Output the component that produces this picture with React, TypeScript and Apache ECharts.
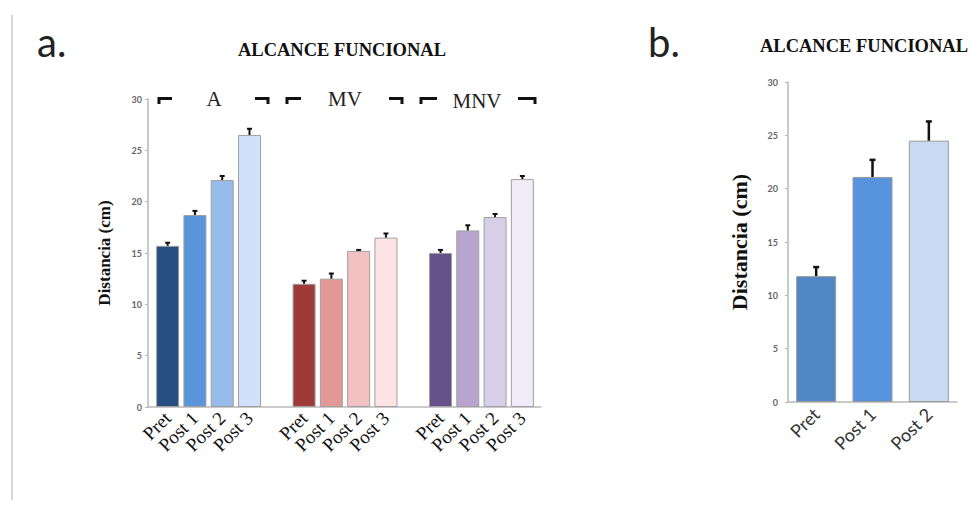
import React, { useEffect, useRef } from "react";
import * as echarts from "echarts";

// ---- data ----
const leftCategories = ["Pret", "Post 1", "Post 2", "Post 3", "", "Pret", "Post 1", "Post 2", "Post 3", "", "Pret", "Post 1", "Post 2", "Post 3"];
const groupA = [15.7, 18.7, 22.1, 26.5];
const groupAErr = [0.3, 0.4, 0.4, 0.6];
const groupMV = [12.0, 12.5, 15.2, 16.5];
const groupMVErr = [0.3, 0.5, 0.1, 0.4];
const groupMNV = [15.0, 17.2, 18.5, 22.2];
const groupMNVErr = [0.3, 0.5, 0.3, 0.3];
const colorsA = ["#264f80", "#5a95dc", "#96bcec", "#cfe2f9"];
const colorsMV = ["#9e3b39", "#e29894", "#f3c1c1", "#fde4e4"];
const colorsMNV = ["#67518a", "#b7a5cf", "#d7cee7", "#f0ecf9"];
const groupLabels = ["A", "MV", "MNV"];

const rightCategories = ["Pret", "Post 1", "Post 2"];
const rightValues = [11.8, 21.1, 24.5];
const rightErr = [0.85, 1.6, 1.8];
const rightColors = ["#5087c7", "#5894de", "#c7daf1"];

export default function App() {
  const ref = useRef<HTMLDivElement>(null);
  useEffect(() => {
    if (!ref.current) return;
    const chart = echarts.init(ref.current, undefined, { renderer: "svg" });

    const groups = [
      { v: groupA, e: groupAErr, c: colorsA },
      { v: groupMV, e: groupMVErr, c: colorsMV },
      { v: groupMNV, e: groupMNVErr, c: colorsMNV },
    ];
    const leftBars: any[] = [];
    const leftErr: any[] = [];
    groups.forEach((g, gi) => {
      g.v.forEach((val, i) => {
        const idx = gi * 5 + i;
        leftBars[idx] = {
          value: val,
          itemStyle: { color: g.c[i], borderColor: "#a0a0a0", borderWidth: 1 },
        };
        leftErr.push([idx, val, g.e[i]]);
      });
      if (gi < 2) leftBars[gi * 5 + 4] = "-";
    });

    const rightBars = rightValues.map((v, i) => ({
      value: v,
      itemStyle: { color: rightColors[i], borderColor: "#9a9a9a", borderWidth: 1 },
    }));
    const rightErrData = rightValues.map((v, i) => [i, v, rightErr[i]]);

    const makeErr = (capHalf: number, lw: number) => (params: any, api: any) => {
      const x = api.value(0);
      const v = api.value(1);
      const e = api.value(2);
      const p0 = api.coord([x, v]);
      const p1 = api.coord([x, v + e]);
      return {
        type: "group",
        children: [
          { type: "line", shape: { x1: p0[0], y1: p0[1], x2: p1[0], y2: p1[1] }, style: { stroke: "#111", lineWidth: lw } },
          { type: "line", shape: { x1: p1[0] - capHalf, y1: p1[1], x2: p1[0] + capHalf, y2: p1[1] }, style: { stroke: "#111", lineWidth: lw } },
        ],
      };
    };

    const tickLabel = { color: "#666", fontSize: 9, fontFamily: "Lato", fontWeight: "bold" as const };
    const bracket = (x1: number, x2: number, leftSide: boolean) => ({
      type: "polyline",
      shape: {
        points: leftSide
          ? [[x1, 104], [x1, 98.5], [x2, 98.5]]
          : [[x1, 98.5], [x2, 98.5], [x2, 104]],
      },
      style: { stroke: "#111", lineWidth: 3, fill: "none" },
    });
    const groupText = (x: number, y: number, t: string) => ({
      type: "text", x, y,
      style: { text: t, fontFamily: "Liberation Serif", fontSize: 21, fill: "#222", align: "center", verticalAlign: "middle" },
    });

    const titleStyle = { fontFamily: "Liberation Serif", fontWeight: "bold", fontSize: 18.5, color: "#111" };

    const option: any = {
      animation: false,
      backgroundColor: "#fff",
      title: [
        { text: "ALCANCE FUNCIONAL", left: 337, top: 35, textAlign: "center", textStyle: titleStyle },
        { text: "ALCANCE FUNCIONAL", left: 859, top: 31, textAlign: "center", textStyle: titleStyle },
      ],
      grid: [
        { left: 154, right: 435, top: 99, bottom: 101 },
        { left: 148, right: 430, top: 99, bottom: 101 },
        { left: 788, right: 14, top: 82, bottom: 106 },
      ],
      xAxis: [
        {
          type: "category", gridIndex: 0, data: leftCategories,
          axisLine: { show: false }, axisTick: { show: false },
          axisLabel: { interval: 0, rotate: 45, margin: 8, fontFamily: "Liberation Serif", fontSize: 19, color: "#111" },
        },
        {
          type: "value", gridIndex: 1, min: 0, max: 1,
          axisLine: { show: true, lineStyle: { color: "#b8b8b8", width: 1.5 } },
          axisTick: { show: false }, axisLabel: { show: false }, splitLine: { show: false },
        },
        {
          type: "category", gridIndex: 2, data: rightCategories,
          axisLine: { show: true, lineStyle: { color: "#b8b8b8", width: 1.5 } }, axisTick: { show: false },
          axisLabel: { interval: 0, rotate: 45, margin: 9, fontFamily: "Lato", fontSize: 18, color: "#333" },
        },
      ],
      yAxis: [
        { type: "value", gridIndex: 0, min: 0, max: 30, interval: 5, show: false },
        {
          type: "value", gridIndex: 1, min: 0, max: 30, interval: 5,
          axisLine: { show: true, lineStyle: { color: "#b8b8b8", width: 1.5 } },
          axisTick: { show: true, length: 3, lineStyle: { color: "#b8b8b8" } },
          axisLabel: { ...tickLabel, margin: 6 },
          splitLine: { show: false },
          name: "Distancia (cm)", nameLocation: "middle", nameGap: 35, nameRotate: 90,
          nameTextStyle: { fontFamily: "Liberation Serif", fontWeight: "bold", fontSize: 17, color: "#111" },
        },
        {
          type: "value", gridIndex: 2, min: 0, max: 30, interval: 5,
          axisLine: { show: true, lineStyle: { color: "#b8b8b8", width: 1.5 } },
          axisTick: { show: true, length: 3, lineStyle: { color: "#b8b8b8" } },
          axisLabel: { ...tickLabel, margin: 10 },
          splitLine: { show: false },
          name: "Distancia (cm)", nameLocation: "middle", nameGap: 38, nameRotate: 90,
          nameTextStyle: { fontFamily: "Liberation Serif", fontWeight: "bold", fontSize: 22, color: "#111" },
        },
      ],
      series: [
        { type: "bar", xAxisIndex: 0, yAxisIndex: 0, data: leftBars, barWidth: 23 },
        { type: "custom", xAxisIndex: 0, yAxisIndex: 0, data: leftErr, renderItem: makeErr(2.5, 2), z: 5 },
        { type: "bar", xAxisIndex: 2, yAxisIndex: 2, data: rightBars, barWidth: 40 },
        { type: "custom", xAxisIndex: 2, yAxisIndex: 2, data: rightErrData, renderItem: makeErr(3, 2.5), z: 5 },
      ],
      graphic: [
        { type: "line", shape: { x1: 12, y1: 15, x2: 12, y2: 500 }, style: { stroke: "#d8d8d8", lineWidth: 2 } },
        { type: "text", left: 37, top: 22, style: { text: "a.", fontFamily: "Lato", fontSize: 40, fill: "#222" } },
        { type: "text", left: 648, top: 22, style: { text: "b.", fontFamily: "Lato", fontSize: 40, fill: "#222" } },
        bracket(159, 172, true),
        bracket(255, 268, false),
        bracket(287, 301, true),
        bracket(389, 402, false),
        bracket(421, 437, true),
        bracket(518, 535, false),
        groupText(214, 99, groupLabels[0]),
        groupText(345, 99, groupLabels[1]),
        groupText(477, 101, groupLabels[2]),
      ],
    };
    chart.setOption(option);
    return () => chart.dispose();
  }, []);
  return <div ref={ref} style={{ width: 971, height: 508, position: "absolute", left: 0, top: 0 }} />;
}
